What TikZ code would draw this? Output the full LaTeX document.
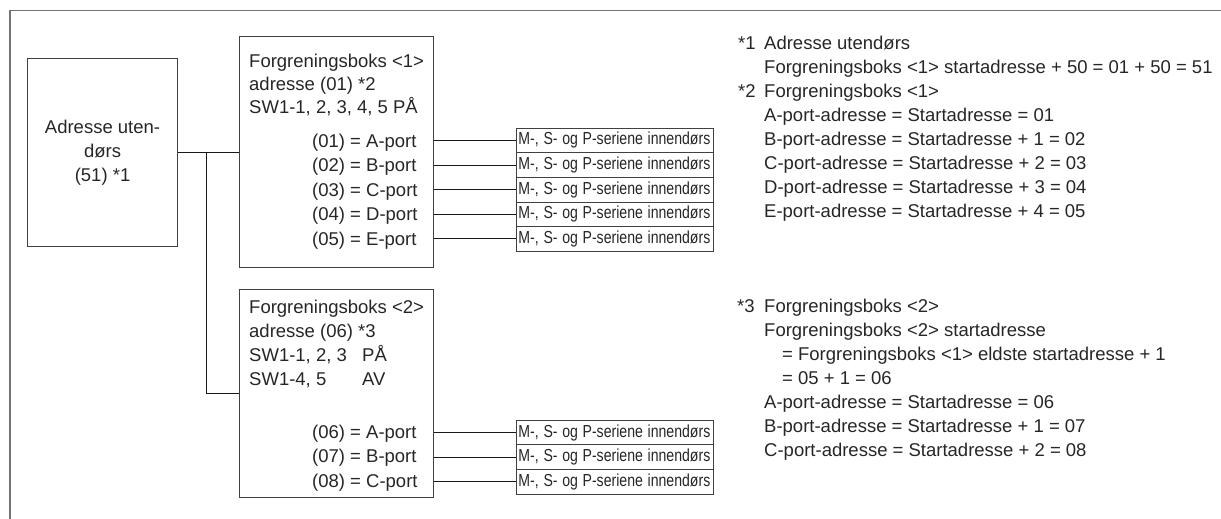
\documentclass[tikz,border=0pt]{standalone}
\usepackage{fontspec}
\setmainfont{Liberation Sans}
\usetikzlibrary{positioning}

\newcommand{\indoor}{\scalebox{0.81}[1]{M-, S- og P-seriene innendørs}}

\begin{document}
\begin{tikzpicture}[x=1pt, y=-1pt,
  txt/.style={font=\fontsize{18.5}{24}\selectfont, inner sep=0pt, anchor=base west, text=black!85},
  box/.style={draw=black!75, line width=1.1pt, inner sep=0pt, anchor=north west},
  unit/.style={draw=black!75, line width=0.9pt, minimum width=197pt, minimum height=24.6pt,
    inner xsep=2pt, inner ysep=0pt, text width=193pt, align=left, anchor=west,
    font=\fontsize{17.4}{18}\selectfont, text=black!85},
  wire/.style={black!90, line width=0.9pt}]

  \useasboundingbox (0,0) rectangle (1221,519);

  % Outer frame (only top and left edges visible)
  \draw[black!55, line width=1.8pt] (10,519) -- (10,10.5) -- (1221,10.5);

  % Outdoor unit
  \node[box, minimum width=150pt, minimum height=188pt] (odu) at (27,58) {};
  \node[font=\fontsize{18.5}{24}\selectfont, align=center, text=black!85] (odutxt) at (odu.center) {Adresse uten-\\dørs\\(51) *1};

  % Branch box <1>
  \node[box, minimum width=194pt, minimum height=231pt] (fb1) at (239,36) {};
  \node[txt] (fb1a) at (249,67.5) {Forgreningsboks <1>};
  \node[txt] (fb1b) at (249,90.5) {adresse (01) *2};
  \node[txt] (fb1c) at (249,113.5) {SW1-1, 2, 3, 4, 5 PÅ};
  \foreach \p/\q [count=\i] in {01/A,02/B,03/C,04/D,05/E} {
    \node[unit] (u1\i) at (516,{140.5+24.6*(\i-1)}) {\indoor};
    \node[txt] (p1\i) at (312,{147+24.6*(\i-1)}) {(\p) = \q-port};
    \draw[wire] (fb1.east |- u1\i.west) -- (u1\i.west);
  }

  % Branch box <2>
  \node[box, minimum width=194pt, minimum height=208pt] (fb2) at (239,289) {};
  \node[txt] (fb2a) at (249,313.5) {Forgreningsboks <2>};
  \node[txt] (fb2b) at (249,337.5) {adresse (06) *3};
  \node[txt] (fb2c) at (249,361.5) {SW1-1, 2, 3};
  \node[txt] (fb2d) at (362,361.5) {PÅ};
  \node[txt] (fb2e) at (249,385.5) {SW1-4, 5};
  \node[txt] (fb2f) at (362,385.5) {AV};
  \foreach \p/\q [count=\i] in {06/A,07/B,08/C} {
    \node[unit] (u2\i) at (516,{432.5+24.6*(\i-1)}) {\indoor};
    \node[txt] (p2\i) at (312,{438+24.6*(\i-1)}) {(\p) = \q-port};
    \draw[wire] (fb2.east |- u2\i.west) -- (u2\i.west);
  }

  % Wiring outdoor unit -> branch boxes
  \coordinate (jn) at (206,0 |- odu.east);
  \draw[wire] (odu.east) -- (odu.east -| fb1.west);
  \draw[wire] (jn) |- (fb2.west);

  % Notes *1 and *2
  \node[txt] (s1) at (738,49.5) {*1};
  \node[txt] (s2) at (738,97.5) {*2};
  \foreach \t [count=\i] in {Adresse utendørs,
      Forgreningsboks <1> startadresse + 50 = 01 + 50 = 51,
      Forgreningsboks <1>,
      A-port-adresse = Startadresse = 01,
      B-port-adresse = Startadresse + 1 = 02,
      C-port-adresse = Startadresse + 2 = 03,
      D-port-adresse = Startadresse + 3 = 04,
      E-port-adresse = Startadresse + 4 = 05}
    \node[txt] (n1\i) at (764,{49.5+24*(\i-1)}) {\t};

  % Note *3
  \node[txt] (s3) at (737,312.5) {*3};
  \node[txt] (n31) at (764,312.5) {Forgreningsboks <2>};
  \node[txt] (n32) at (764,336.5) {Forgreningsboks <2> startadresse};
  \node[txt] (n33) at (782,360.5) {= Forgreningsboks <1> eldste startadresse + 1};
  \node[txt] (n34) at (782,384.5) {= 05 + 1 = 06};
  \node[txt] (n35) at (764,408.5) {A-port-adresse = Startadresse = 06};
  \node[txt] (n36) at (764,432.5) {B-port-adresse = Startadresse + 1 = 07};
  \node[txt] (n37) at (764,456.5) {C-port-adresse = Startadresse + 2 = 08};

\end{tikzpicture}
\end{document}
